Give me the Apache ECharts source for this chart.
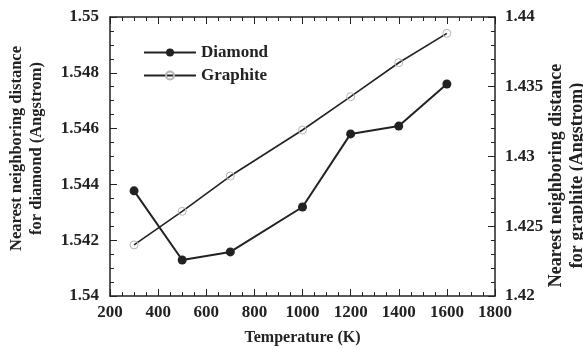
<!DOCTYPE html>
<html>
<head>
<meta charset="utf-8">
<script src="https://cdn.jsdelivr.net/npm/echarts@6/dist/echarts.min.js"></script>
<style>
  html, body { margin: 0; padding: 0; background: #fff; }
  #chart { width: 583px; height: 348px; }
</style>
</head>
<body>
<div id="chart"></div>
<script>
// Temperatures (K) at which the bond lengths were computed
const temperatures = [300, 500, 700, 1000, 1200, 1400, 1600];
// Nearest neighbouring distance, diamond (left axis, Angstrom)
const diamondDist = [1.54377, 1.54129, 1.54158, 1.54319, 1.54581, 1.54609, 1.54760];
// Nearest neighbouring distance, graphite (right axis, Angstrom)
const graphiteDist = [1.42366, 1.42607, 1.42860, 1.43190, 1.43429, 1.43672, 1.43883];

const seriesNames = ['Diamond', 'Graphite'];
const xTitle = 'Temperature (K)';
const leftTitle = 'Nearest neighboring distance\nfor diamond (Angstrom)';
const rightTitle = 'Nearest neighboring distance\nfor graphite (Angstrom)';

const FONT = '"Liberation Serif", "Times New Roman", serif';
const INK = '#222';

const pairs = (xs, ys) => xs.map((x, i) => [x, ys[i]]);
const trim = v => String(+v.toFixed(4));

const tickLabel = {
  color: INK, fontFamily: FONT, fontWeight: 'bold', fontSize: 17
};
const titleStyle = {
  color: INK, fontFamily: FONT, fontWeight: 'bold', fontSize: 16, lineHeight: 20
};
const frameLine = { lineStyle: { color: INK, width: 1.5 } };

const chart = echarts.init(document.getElementById('chart'), null, { renderer: 'canvas' });

chart.setOption({
  backgroundColor: '#fff',
  animation: false,
  grid: { left: 110, right: 88, top: 17, bottom: 52, containLabel: false, outerBoundsMode: 'none' },
  legend: {
    orient: 'vertical',
    left: 143, top: 44, padding: 0,
    itemWidth: 52, itemHeight: 10, itemGap: 6,
    textStyle: { color: INK, fontFamily: FONT, fontWeight: 'bold', fontSize: 17 },
    data: seriesNames
  },
  xAxis: [{
    type: 'value', min: 200, max: 1800, interval: 200,
    name: xTitle, nameLocation: 'middle', nameGap: 32, nameMoveOverlap: false,
    nameTextStyle: titleStyle,
    axisLine: { show: true, onZero: false, ...frameLine },
    axisTick: { show: true, inside: true, length: 7, lineStyle: { color: INK } },
    minorTick: { show: true, splitNumber: 4, length: 4, lineStyle: { color: INK } },
    axisLabel: { ...tickLabel, margin: 8, formatter: v => String(v) },
    splitLine: { show: false }
  }, {
    type: 'value', position: 'top', min: 200, max: 1800, interval: 200,
    axisLine: { show: true, onZero: false, ...frameLine },
    axisTick: { show: true, inside: true, length: 7, lineStyle: { color: INK } },
    minorTick: { show: true, splitNumber: 4, length: 4, lineStyle: { color: INK } },
    axisLabel: { show: false },
    splitLine: { show: false }
  }],
  yAxis: [{
    type: 'value', position: 'left', min: 1.54, max: 1.55, interval: 0.002,
    name: leftTitle, nameLocation: 'middle', nameGap: 63, nameRotate: 90, nameMoveOverlap: false,
    nameTextStyle: { ...titleStyle, fontSize: 16.5, padding: [0, 0, 0, 16] },
    axisLine: { show: true, onZero: false, ...frameLine },
    axisTick: { show: true, inside: true, length: 7, lineStyle: { color: INK } },
    minorTick: { show: true, splitNumber: 4, length: 4, lineStyle: { color: INK } },
    axisLabel: { ...tickLabel, margin: 11, formatter: trim },
    splitLine: { show: false }
  }, {
    type: 'value', position: 'right', min: 1.42, max: 1.44, interval: 0.005,
    name: rightTitle, nameLocation: 'middle', nameGap: 51, nameRotate: 90, nameMoveOverlap: false,
    nameTextStyle: { ...titleStyle, fontSize: 18, lineHeight: 21, padding: [0, 38, 0, 0] },
    axisLine: { show: true, onZero: false, ...frameLine },
    axisTick: { show: true, inside: true, length: 7, lineStyle: { color: INK } },
    minorTick: { show: true, splitNumber: 5, length: 4, lineStyle: { color: INK } },
    axisLabel: { ...tickLabel, margin: 10, formatter: trim },
    splitLine: { show: false }
  }],
  series: [{
    name: seriesNames[0], type: 'line', yAxisIndex: 0, xAxisIndex: 0,
    data: pairs(temperatures, diamondDist),
    symbol: 'circle', symbolSize: 9,
    itemStyle: { color: INK },
    lineStyle: { color: INK, width: 2 }
  }, {
    name: seriesNames[1], type: 'line', yAxisIndex: 1, xAxisIndex: 0,
    data: pairs(temperatures, graphiteDist),
    symbol: 'circle', symbolSize: 8,
    itemStyle: { color: 'transparent', borderColor: '#b5b5b5', borderWidth: 1 },
    lineStyle: { color: INK, width: 1.6 }
  }]
});
</script>
</body>
</html>
